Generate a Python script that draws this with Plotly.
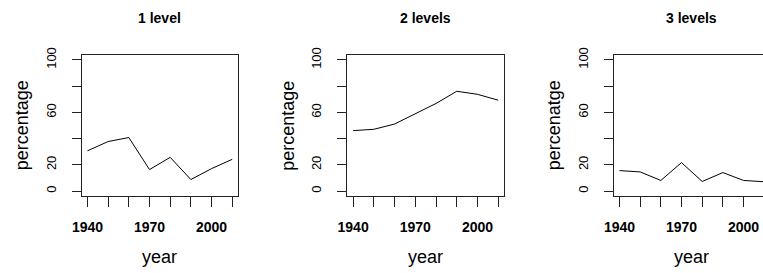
import plotly.graph_objects as go

years = [1940, 1950, 1960, 1970, 1980, 1990, 2000, 2010]
one_level = [30.7, 37.8, 40.8, 16.4, 25.7, 8.8, 17.1, 24.2]
two_levels = [46.1, 47.1, 51.1, 58.7, 66.8, 76.1, 73.8, 69.3]
three_levels = [15.6, 14.6, 8.1, 21.7, 7.3, 14.1, 8.1, 7.1]

panel_titles = ["1 level", "2 levels", "3 levels"]
y_titles = ["percentage", "percentage", "percenatge"]
x_title = "year"

x_tickvals = years
x_ticktext = ["1940", "", "", "1970", "", "", "2000", ""]
y_tickvals = [0, 20, 40, 60, 80, 100]
y_ticktext = ["0", "20", "", "60", "", "100"]

W, H = 763, 273
FONT = "Liberation Sans, Arial, Helvetica, sans-serif"

# panel frames in pixels (left, right), shared top/bottom
panels_px = [(81.7, 238.0), (347.3, 504.0), (613.7, 770.0)]
top_px, bot_px = 54.7, 196.3
x_range = [1937.2, 2012.8]
y_range = [-4, 104]

series = [one_level, two_levels, three_levels]

fig = go.Figure()
annotations = []
for i, (vals, (l, r)) in enumerate(zip(series, panels_px)):
    n = "" if i == 0 else str(i + 1)
    xa, ya = "xaxis" + n, "yaxis" + n
    xr, yr = "x" + n, "y" + n
    fig.add_trace(go.Scatter(x=years, y=vals, mode="lines",
                             line=dict(color="#000000", width=1),
                             xaxis=xr, yaxis=yr, showlegend=False,
                             hoverinfo="skip"))
    rng = list(x_range)
    dom_r = r / W
    if dom_r > 1:
        scale = (r - l) / (x_range[1] - x_range[0])
        rng = [x_range[0], x_range[0] + (W - l) / scale]
        dom_r = 1.0
    vis_r = min(r, W)
    xc = ((l + r) / 2 - l) / (vis_r - l)
    fig.layout[xa] = dict(domain=[l / W, dom_r], range=rng, anchor=yr, automargin=False,
                          tickmode="array", tickvals=x_tickvals, ticktext=x_ticktext,
                          ticks="outside", ticklen=10, tickwidth=1, tickcolor="#222",
                          showline=True, linecolor="#222", linewidth=1, mirror=True,
                          showgrid=False, zeroline=False, ticklabelstandoff=8,
                          tickfont=dict(family=FONT, size=14, color="#000", weight="bold"))
    fig.layout[ya] = dict(domain=[(H - bot_px) / H, (H - top_px) / H], range=y_range,
                          anchor=xr, automargin=False, tickmode="array", tickvals=y_tickvals,
                          ticktext=y_ticktext, tickangle=-90,
                          ticks="outside", ticklen=9, tickwidth=1, tickcolor="#222",
                          showline=True, linecolor="#222", linewidth=1,
                          mirror=(i < 2), showgrid=False, zeroline=False,
                          ticklabelstandoff=11,
                          tickfont=dict(family=FONT, size=13, color="#000"))
    annotations.append(dict(text="<b>%s</b>" % panel_titles[i], xref=xr + " domain", yref=yr + " domain",
                            x=xc, y=1, yshift=37, showarrow=False, xanchor="center", yanchor="middle",
                            font=dict(family=FONT, size=14, color="#000")))
    annotations.append(dict(text=y_titles[i], xref=xr + " domain", yref=yr + " domain",
                            x=0, y=0.5, xshift=-60, textangle=-90, showarrow=False,
                            xanchor="center", yanchor="middle",
                            font=dict(family=FONT, size=18, color="#000")))
    annotations.append(dict(text=x_title, xref=xr + " domain", yref=yr + " domain",
                            x=xc, y=0, yshift=-61, showarrow=False, xanchor="center", yanchor="middle",
                            font=dict(family=FONT, size=18, color="#000")))

fig.update_layout(width=W, height=H, margin=dict(l=0, r=0, t=0, b=0, autoexpand=False),
                  paper_bgcolor="white", plot_bgcolor="white",
                  annotations=annotations, showlegend=False)
fig.write_html("out.html", config={"displayModeBar": False},
               post_script="document.body.style.margin='0px';document.body.style.overflow='hidden';")
